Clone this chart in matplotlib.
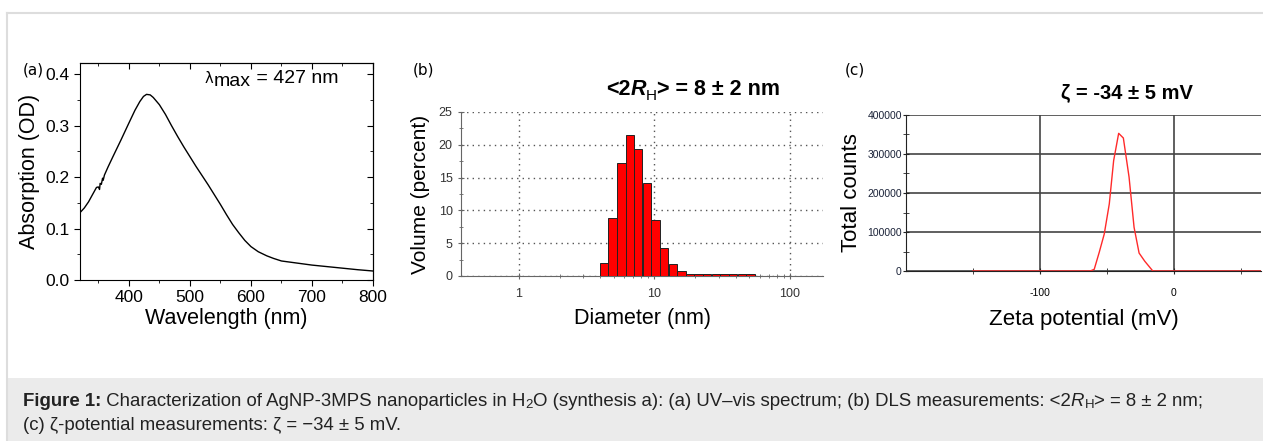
import numpy as np
import matplotlib
matplotlib.use("Agg")
import matplotlib.pyplot as plt
from matplotlib.patches import Rectangle
from matplotlib.lines import Line2D
from matplotlib.ticker import MultipleLocator, FixedLocator, NullFormatter

plt.rcParams['font.family'] = ['Liberation Sans', 'DejaVu Sans']
plt.rcParams['axes.unicode_minus'] = False

# (a) UV-vis spectrum
wl = [320, 327, 334, 340, 347, 350, 352, 353, 355, 357, 358, 360, 366, 374, 387, 400,
      410, 418, 424, 429, 435, 440, 450, 460, 470, 480, 490, 500, 510, 520, 530, 540,
      550, 560, 570, 580, 590, 600, 612, 626, 637, 650, 675, 700, 725, 750, 775, 800]
absorb = [0.131, 0.140, 0.152, 0.165, 0.180, 0.181, 0.176, 0.188, 0.186, 0.198, 0.194, 0.204,
          0.220, 0.240, 0.272, 0.305, 0.330, 0.347, 0.357, 0.361, 0.360, 0.355, 0.341, 0.322,
          0.300, 0.279, 0.259, 0.240, 0.221, 0.203, 0.185, 0.166, 0.147, 0.127, 0.108, 0.092,
          0.077, 0.065, 0.055, 0.047, 0.042, 0.037, 0.033, 0.029, 0.026, 0.023, 0.020, 0.0175]

# (b) DLS volume distribution
diam = [4.24, 4.9, 5.7, 6.6, 7.6, 8.8, 10.2, 11.8, 13.7, 15.8, 18.3, 21.2, 24.5, 28.4,
        32.9, 38.1, 44.1, 51.0]
volume = [2.0, 8.8, 17.2, 21.5, 19.3, 14.2, 8.6, 4.3, 1.8, 0.8, 0.35, 0.3, 0.3, 0.3,
          0.3, 0.3, 0.3, 0.3]

# (c) zeta potential distribution
zeta = [-150, -62.5, -59.5, -55.75, -52, -48.25, -45, -41.25, -37.75, -33.5, -29.75,
        -26, -21.75, -15.75, 65]
counts = [0, 0, 4300, 48000, 95000, 172000, 283000, 353000, 341000, 241000, 112000,
          46000, 25000, 0, 0]

W, H = 1263, 441
fig = plt.figure(figsize=(W / 100, H / 100), dpi=100)
renderer = fig.canvas.get_renderer()


def box(l, t, r, b):
    return [l / W, 1 - b / H, (r - l) / W, (b - t) / H]


def run_text(x, y, parts, **common):
    # parts: (string, dy in px, extra kwargs); x, y in pixels from top-left (baseline)
    for s, dy, kw in parts:
        opts = dict(common)
        opts.update(kw)
        t = fig.text(x / W, 1 - (y + dy) / H, s, va='baseline', **opts)
        x += t.get_window_extent(renderer).width


# page frame and caption box
fig.add_artist(Line2D([7 / W, 1], [1 - 13 / H, 1 - 13 / H], color='#dddddd', lw=1.5))
fig.add_artist(Line2D([7 / W, 7 / W], [0, 1 - 13 / H], color='#dddddd', lw=1.5))
fig.add_artist(Rectangle((8 / W, 0), 1, 1 - 378 / H, color='#ebebeb', lw=0))

# ---- panel (a)
ax1 = fig.add_axes(box(80, 63, 373, 280))
ax1.plot(wl, absorb, color='black', lw=1)
ax1.set_xlim(320, 800)
ax1.set_ylim(0, 0.422)
ax1.xaxis.set_major_locator(MultipleLocator(100))
ax1.xaxis.set_minor_locator(MultipleLocator(50))
ax1.yaxis.set_major_locator(MultipleLocator(0.1))
ax1.yaxis.set_minor_locator(MultipleLocator(0.05))
ax1.tick_params(which='both', direction='out', labelsize=12.5)
ax1.tick_params(which='major', length=4)
ax1.tick_params(which='minor', length=2.5)
top = ax1.secondary_xaxis('top')
top.xaxis.set_major_locator(MultipleLocator(100))
top.xaxis.set_minor_locator(MultipleLocator(50))
top.tick_params(which='both', direction='in', labeltop=False, length=4)
top.tick_params(which='minor', length=2.5)
right = ax1.secondary_yaxis('right')
right.yaxis.set_major_locator(MultipleLocator(0.1))
right.yaxis.set_minor_locator(MultipleLocator(0.05))
right.tick_params(which='both', direction='in', labelright=False, length=4)
right.tick_params(which='minor', length=2.5)
ax1.set_xlabel('Wavelength (nm)', fontsize=15.5, labelpad=2)
ax1.set_ylabel('Absorption (OD)', fontsize=15.5, labelpad=4)
run_text(205, 83, [('λ', 0, dict(fontsize=10.5, family='DejaVu Sans')),
                   ('max', 3.5, dict(fontsize=14)),
                   (' = 427 nm', 0, dict(fontsize=14))])
fig.text(23 / W, 1 - 70 / H, '(a)', fontsize=11, family='DejaVu Sans', va='center')

# ---- panel (b)
ax2 = fig.add_axes(box(461, 112, 823, 276))
ax2.set_xscale('log')
lo = [d / 10 ** 0.0314 for d in diam]
hi = [d * 10 ** 0.0314 for d in diam]
ax2.bar(lo, volume, width=np.array(hi) - np.array(lo), align='edge',
        color='#ff0000', edgecolor='#222222', lw=0.7, zorder=3)
ax2.set_xlim(0.375, 175)
ax2.set_ylim(0, 25)
for s in ['top', 'right']:
    ax2.spines[s].set_visible(False)
for s in ['left', 'bottom']:
    ax2.spines[s].set_color('#666666')
ax2.xaxis.set_major_locator(FixedLocator([1, 10, 100]))
ax2.xaxis.set_minor_locator(FixedLocator([2, 3, 4, 5, 6, 7, 8, 9, 20, 30, 40, 50, 60, 70, 80, 90]))
ax2.xaxis.set_minor_formatter(NullFormatter())
ax2.set_xticklabels(['1', '10', '100'])
ax2.yaxis.set_major_locator(MultipleLocator(5))
ax2.yaxis.set_minor_locator(MultipleLocator(2.5))
ax2.tick_params(which='both', direction='inout', color='#666666', labelsize=9,
                labelcolor='#333333')
ax2.tick_params(which='major', length=5)
ax2.tick_params(which='minor', length=3)
ax2.tick_params(axis='x', pad=6)
ax2.grid(True, which='major', ls=(0, (1, 3)), color='#555555', lw=1)
ax2.set_axisbelow(True)
ax2.set_xlabel('Diameter (nm)', fontsize=15.5, labelpad=6)
ax2.set_ylabel('Volume (percent)', fontsize=15, labelpad=6)
run_text(606, 95, [('<2', 0, {}), ('R', 0, dict(style='italic')),
                   ('H', 4.5, dict(fontsize=11, weight='normal')),
                   ('> = 8 ± 2 nm', 0, {})], fontsize=15.5, weight='bold')
fig.text(413 / W, 1 - 70 / H, '(b)', fontsize=11, family='DejaVu Sans', va='center')

# ---- panel (c)
ax3 = fig.add_axes(box(906, 115, 1261, 271))
ax3.plot(zeta, counts, color='#ff2a2a', lw=1, zorder=3)
ax3.set_xlim(-200, 65)
ax3.set_ylim(0, 400000)
for s in ['top', 'right']:
    ax3.spines[s].set_visible(False)
ax3.spines['left'].set_color('#222222')
ax3.spines['bottom'].set_color('#222222')
ax3.xaxis.set_major_locator(FixedLocator([-100, 0]))
ax3.xaxis.set_minor_locator(FixedLocator([-150, -50, 50]))
ax3.yaxis.set_major_locator(MultipleLocator(100000))
ax3.yaxis.set_minor_locator(MultipleLocator(50000))
ax3.yaxis.set_major_formatter(plt.FuncFormatter(lambda v, p: '%d' % v))
ax3.tick_params(which='both', direction='inout', length=4, color='#222222', labelsize=7.5)
ax3.tick_params(axis='x', pad=10)
ax3.tick_params(axis='y', labelcolor='#1a2238', pad=1)
ax3.grid(True, which='major', color='#444444', lw=1.2)
ax3.set_axisbelow(True)
ax3.set_xlabel('Zeta potential (mV)', fontsize=16, labelpad=8)
ax3.set_ylabel('Total counts', fontsize=16, labelpad=4)
fig.text(1127 / W, 1 - 93 / H, 'ζ = -34 ± 5 mV', fontsize=14.5, weight='bold',
         ha='center', va='center')
fig.text(845 / W, 1 - 70 / H, '(c)', fontsize=11, family='DejaVu Sans', va='center')

# ---- caption
cap = dict(fontsize=13.4, color='#222222')
run_text(23, 405.5, [('Figure 1:', 0, dict(weight='bold')),
                     (' Characterization of AgNP-3MPS nanoparticles in H', 0, {}),
                     ('2', 3, dict(fontsize=9.5)),
                     ('O (synthesis a): (a) UV–vis spectrum; (b) DLS measurements: <2', 0, {}),
                     ('R', 0, dict(style='italic')),
                     ('H', 3, dict(fontsize=9.5)),
                     ('> = 8 ± 2 nm;', 0, {})], **cap)
run_text(23, 429.5, [('(c) ζ-potential measurements: ζ = −34 ± 5 mV.', 0, {})], **cap)

fig.savefig('out.png', dpi=100)
